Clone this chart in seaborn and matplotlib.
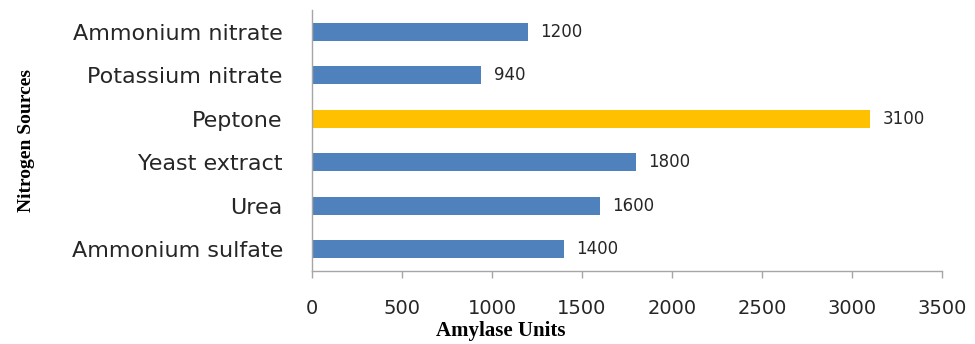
import matplotlib
matplotlib.use("Agg")
import matplotlib.pyplot as plt
import seaborn as sns
import pandas as pd

# Nitrogen sources and the amylase activity measured for each
sources = ["Ammonium nitrate", "Potassium nitrate", "Peptone",
           "Yeast extract", "Urea", "Ammonium sulfate"]
amylase_units = [1200, 940, 3100, 1800, 1600, 1400]
x_ticks = [0, 500, 1000, 1500, 2000, 2500, 3000, 3500]

blue = "#4F81BD"
gold = "#FFC000"
bar_colors = {s: (gold if s == "Peptone" else blue) for s in sources}

df = pd.DataFrame({"source": sources, "units": amylase_units})

sns.set_theme(style="white")
plt.rcParams["font.family"] = ["DejaVu Sans"]

fig = plt.figure(figsize=(9.75, 3.44), dpi=100)
ax = fig.add_axes([312 / 975, 1 - 271 / 344, 630 / 975, 261 / 344])

sns.barplot(data=df, x="units", y="source", hue="source", order=sources,
            palette=bar_colors, orient="h", width=0.41, legend=False,
            saturation=1, linewidth=0, ax=ax)

ax.set_xlim(0, 3500)
ax.set_xticks(x_ticks)
ax.set_xticklabels([str(t) for t in x_ticks], fontsize=14, color="#262626")
ax.tick_params(axis="x", which="major", direction="out", length=5, width=1,
               color="#A6A6A6", pad=15, bottom=True)
ax.tick_params(axis="y", length=0, pad=21, labelsize=16, labelcolor="#262626")

for side in ["top", "right"]:
    ax.spines[side].set_visible(False)
for side in ["left", "bottom"]:
    ax.spines[side].set_color("#A6A6A6")
    ax.spines[side].set_linewidth(1)

# value labels at the end of each bar
for i, v in enumerate(amylase_units):
    ax.annotate(str(v), xy=(v, i), xytext=(9, 0), textcoords="offset points",
                va="center", ha="left", fontsize=12, color="#262626")

ax.set_xlabel("Amylase Units", fontsize=15, fontweight="bold",
              family="Liberation Serif", color="black")
ax.xaxis.set_label_coords(0.30, -0.19)
ax.set_ylabel("Nitrogen Sources", fontsize=14, fontweight="bold",
              family="Liberation Serif", color="black")
ax.yaxis.set_label_coords(-0.44, 0.5)

fig.savefig("out.png", dpi=100, facecolor="white")
